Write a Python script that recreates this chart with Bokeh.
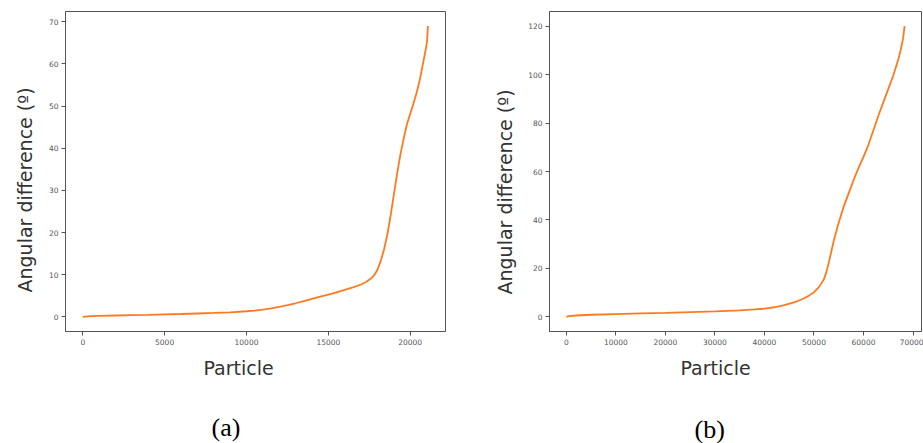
from bokeh.plotting import figure
from bokeh.layouts import row
from bokeh.models import FixedTicker, Range1d, Title
from bokeh.embed import file_html
from bokeh.resources import INLINE

# ---- data ----
a_x = [0, 500, 1000, 2000, 3000, 4000, 5000, 6000, 7000, 8000, 9000, 10000,
       10500, 11000, 11500, 12000, 12500, 13000, 13500, 14000, 14500, 15000,
       15500, 16000, 16500, 17000, 17300, 17600, 17800, 18000, 18200, 18400,
       18600, 18800, 19000, 19200, 19400, 19600, 19800, 20000, 20200, 20400,
       20600, 20800, 20950, 21030, 21060, 21080]
a_y = [0.0, 0.2, 0.27, 0.35, 0.43, 0.5, 0.6, 0.7, 0.82, 0.95, 1.1, 1.35,
       1.5, 1.75, 2.05, 2.4, 2.8, 3.25, 3.75, 4.3, 4.8, 5.3,
       5.85, 6.4, 7.0, 7.7, 8.3, 9.1, 9.9, 11.2, 13.3, 16.0,
       19.5, 24.0, 29.0, 34.0, 38.5, 42.3, 45.7, 48.2, 50.6, 53.3,
       56.5, 60.5, 63.5, 65.5, 67.5, 69.0]

b_x = [0, 500, 2000, 5000, 10000, 15000, 20000, 25000, 30000, 35000, 38000,
       40000, 42000, 44000, 46000, 47000, 48000, 49000, 50000, 51000, 52000,
       52500, 53000, 53500, 54000, 55000, 56000, 57000, 58000, 59000, 60000,
       61000, 62000, 63000, 64000, 65000, 66000, 67000, 67500, 68000, 68300]
b_y = [0.0, 0.3, 0.6, 0.9, 1.2, 1.45, 1.7, 2.0, 2.3, 2.7, 3.1,
       3.4, 4.0, 4.9, 6.0, 6.8, 7.7, 8.8, 10.2, 12.3, 15.5,
       18.5, 22.5, 27.0, 31.5, 39.0, 45.5, 51.0, 56.5, 61.5, 66.0,
       71.0, 77.0, 83.0, 88.5, 94.0, 99.5, 106.0, 110.0, 115.0, 120.0]

a_xticks = [0, 5000, 10000, 15000, 20000]
a_yticks = [0, 10, 20, 30, 40, 50, 60, 70]
b_xticks = [0, 10000, 20000, 30000, 40000, 50000, 60000, 70000]
b_yticks = [0, 20, 40, 60, 80, 100, 120]

x_label = "Particle"
y_label = "Angular difference (º)"
captions = ["(a)", "(b)"]

LINE = "#ff7a1e"
FRAME = "#555555"
LABEL_FONT = "DejaVu Sans"


def make_panel(xs, ys, xr, yr, xt, yt, width, bl, br, bt,
               ylab_offset, ylab_standoff, xlab_offset, spacer, caption, cap_offset):
    p = figure(width=width, height=443, output_backend="svg", toolbar_location=None,
               x_range=Range1d(*xr), y_range=Range1d(*yr),
               min_border_left=bl, min_border_right=br, min_border_top=bt,
               min_border_bottom=0)
    p.line(xs, ys, line_color=LINE, line_width=1.8)
    p.grid.visible = False
    p.outline_line_color = FRAME
    p.outline_line_width = 1
    p.background_fill_color = "white"
    p.border_fill_color = "white"
    p.xaxis.ticker = FixedTicker(ticks=xt)
    p.yaxis.ticker = FixedTicker(ticks=yt)
    for ax in (p.xaxis[0], p.yaxis[0]):
        ax.axis_line_color = FRAME
        ax.major_tick_line_color = FRAME
        ax.major_tick_out = 4
        ax.major_tick_in = 0
        ax.minor_tick_line_color = None
        ax.major_label_text_font = "DejaVu Sans"
        ax.major_label_text_font_size = "7.5px"
        ax.major_label_text_color = "#555555"
        ax.major_label_standoff = 3
    # axis titles, placed as text rows beside the axes (offset like the reference)
    p.add_layout(Title(text=y_label, align="left", offset=ylab_offset,
                       standoff=ylab_standoff, text_font=LABEL_FONT,
                       text_font_size="19px", text_font_style="normal",
                       text_color="#333333"), "left")
    p.add_layout(Title(text=x_label, align="left", offset=xlab_offset, standoff=14,
                       text_font=LABEL_FONT, text_font_size="19px",
                       text_font_style="normal", text_color="#333333"), "below")
    p.add_layout(Title(text=" ", standoff=spacer, text_font_size="10px"), "below")
    p.add_layout(Title(text=caption, align="left", offset=cap_offset, standoff=0,
                       text_font="Liberation Serif", text_font_size="26px",
                       text_font_style="normal", text_color="black"), "below")
    return p


pa = make_panel(a_x, a_y, (-1055, 22155), (-3.45, 72.45), a_xticks, a_yticks,
                480, 65, 35, 11, 39, 20, 138, 12, captions[0], 146)
pb = make_panel(b_x, b_y, (-3415, 71715), (-6, 126), b_xticks, b_yticks,
                443, 69, 2, 5, 37, 20, 131, 14, captions[1], 145)

layout = row(pa, pb)
open("out.html", "w").write(file_html(layout, INLINE))
